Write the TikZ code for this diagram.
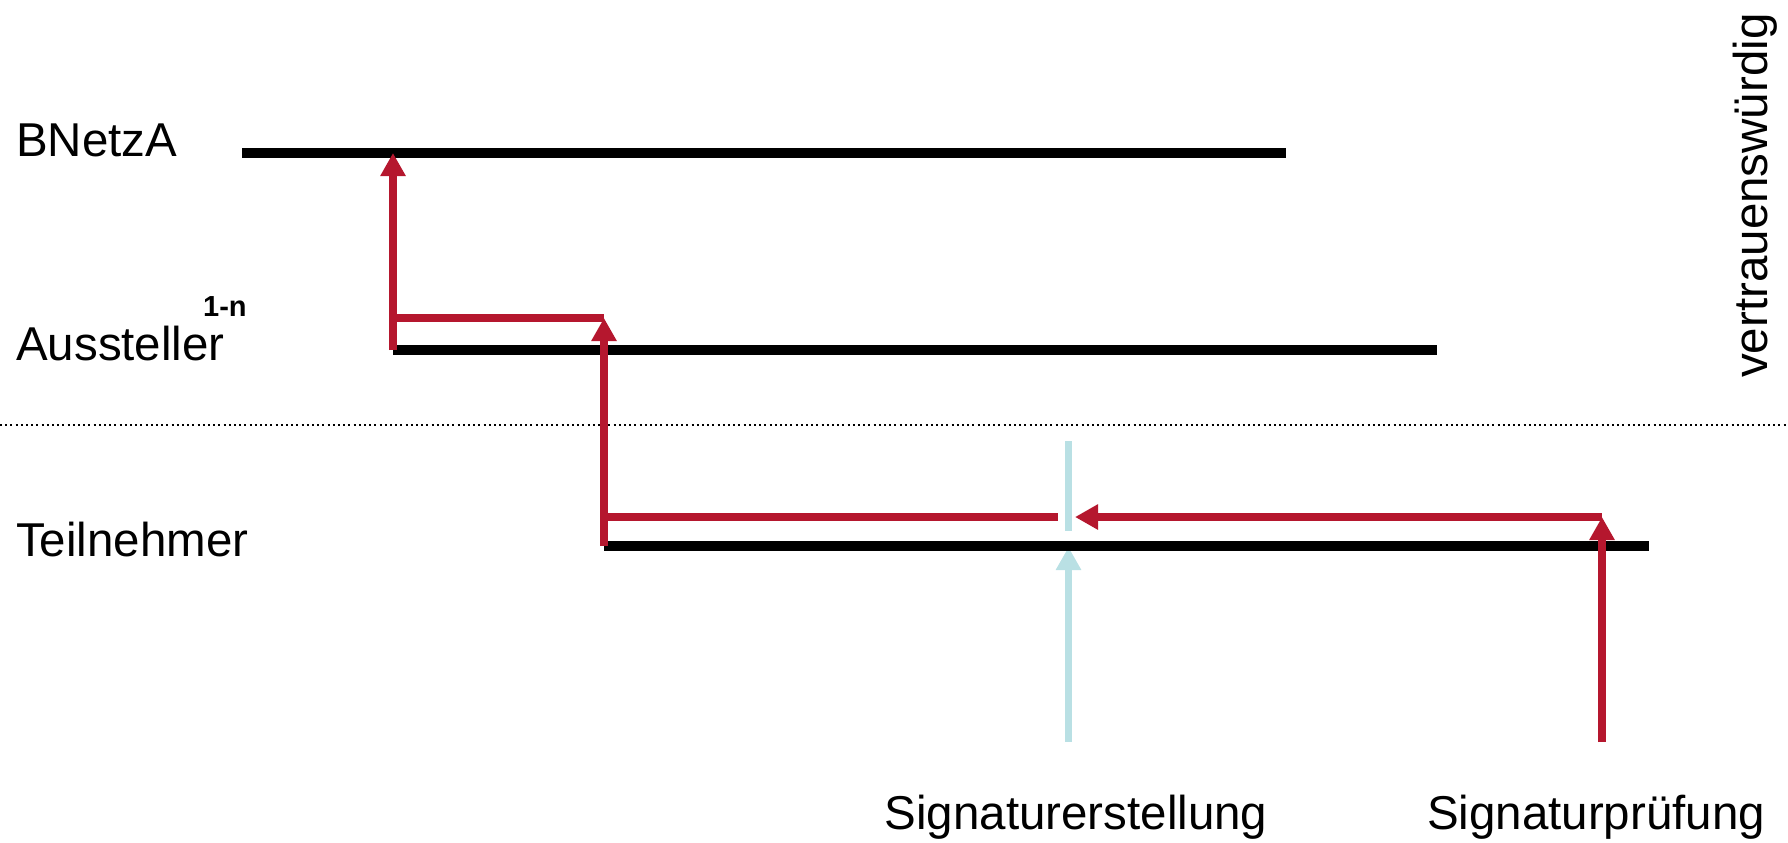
\documentclass[tikz,border=0pt]{standalone}
\usepackage{fontspec}
\setmainfont{Liberation Sans}
\usetikzlibrary{arrows.meta}
\definecolor{sigred}{RGB}{181,23,46}
\definecolor{sigcyan}{RGB}{185,224,228}
\begin{document}
\begin{tikzpicture}[x=1pt,y=-1pt,
  level/.style={line width=10.5pt,black},
  flow/.style={line width=7.5pt,sigred},
  create/.style={line width=7.5pt,sigcyan},
  tip/.style={-{Triangle[width=24pt,length=23pt]}},
  lbl/.style={inner sep=0pt,font=\fontsize{47.5}{57}\selectfont},
  sup/.style={inner sep=0pt,font=\fontsize{29}{35}\selectfont\bfseries}]
\useasboundingbox (0,0) rectangle (1788,843);

% level lines (start / end points)
\coordinate (b0) at (242,153);  \coordinate (b1) at (1286,153);
\coordinate (a0) at (393,350);  \coordinate (a1) at (1437,350);
\coordinate (t0) at (604,546);  \coordinate (t1) at (1649,546);

% helper points for the certificate chain
\coordinate (bHit) at (393,153);
\coordinate (aJoin) at (393,318);
\coordinate (aHit) at (604,318);
\coordinate (tJoin) at (604,517);
\coordinate (tStop) at (1058,517);
\coordinate (vTurn) at (1602,517);
\coordinate (vFoot) at (1602,742);
\coordinate (cTop) at (1068.5,441);
\coordinate (cBot) at (1068.5,531);
\coordinate (cFoot) at (1068.5,742);
\coordinate (cHit) at (1068.5,547);
\coordinate (gapTip) at (1075,517);
\coordinate (dotL) at (0,425);
\coordinate (dotR) at (1788,425);

% trust boundary
\draw[line width=2pt,dash pattern=on 2pt off 3.2pt] (dotL) -- (dotR);

% signature creation (light blue)
\draw[create] (cTop) -- (cBot);
\draw[create,tip] (cFoot) -- (cHit);

% hierarchy levels
\draw[level] (b0) -- (b1);
\draw[level] (a0) -- (a1);
\draw[level] (t0) -- (t1);

% signature verification path (red)
\draw[flow,tip] (a0) -- (bHit);
\draw[flow] (aJoin) -- (aHit);
\draw[flow,tip] (t0) -- (aHit);
\draw[flow] (tJoin) -- (tStop);
\draw[flow,tip] (vTurn) -- (gapTip);
\draw[flow,tip] (vFoot) -- (vTurn);

% labels
\node[lbl,anchor=base west] (lB) at (16,156) {BNetzA};
\node[lbl,anchor=base west] (lA) at (16,360) {Aussteller};
\node[sup,anchor=base west] (lN) at (203,316) {1-n};
\node[lbl,anchor=base west] (lT) at (16,556) {Teilnehmer};
\node[lbl,anchor=base] (lSE) at (1076,829) {Signaturerstellung};
\node[lbl,anchor=base] (lSP) at (1596,829) {Signaturprüfung};
\node[lbl,anchor=base west,rotate=90] (lV) at (1767,378) {vertrauenswürdig};
\end{tikzpicture}
\end{document}
